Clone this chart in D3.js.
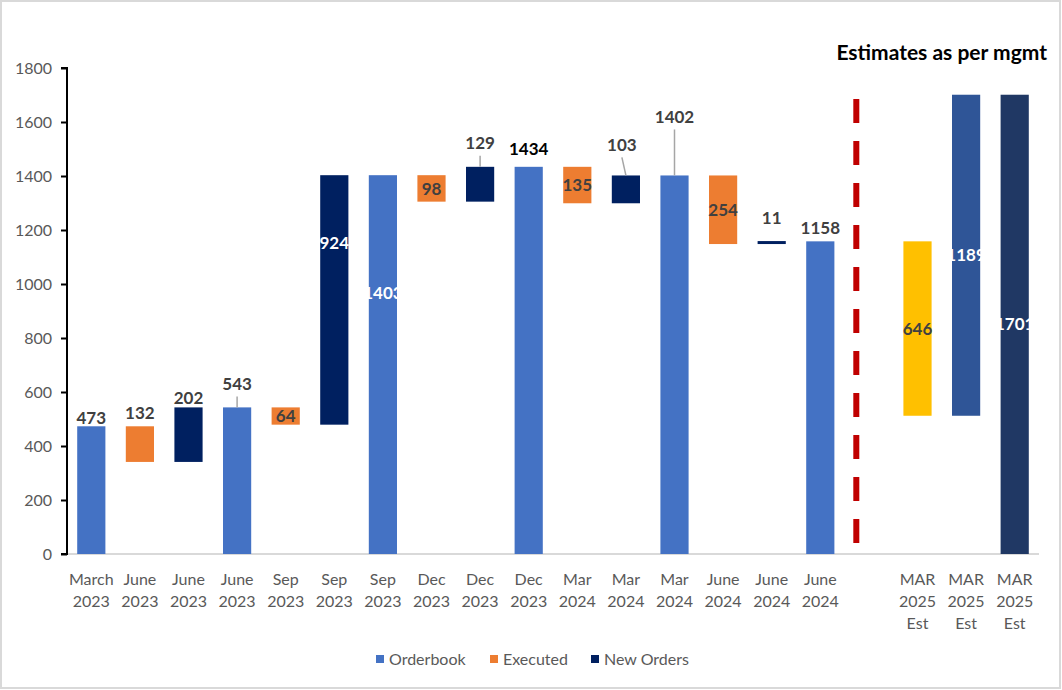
<!DOCTYPE html>
<html>
<head>
<meta charset="utf-8">
<script src="https://cdn.jsdelivr.net/npm/d3@7"></script>
<style>
  html, body { margin: 0; padding: 0; background: #fff; }
  svg { display: block; font-family: Lato, "Open Sans", sans-serif; }
</style>
</head>
<body>
<svg id="chart" width="1062" height="690"></svg>
<script>
// ---------------- DATA ----------------
const categories = [
  "March 2023", "June 2023", "June 2023", "June 2023",
  "Sep 2023", "Sep 2023", "Sep 2023",
  "Dec 2023", "Dec 2023", "Dec 2023",
  "Mar 2024", "Mar 2024", "Mar 2024",
  "June 2024", "June 2024", "June 2024",
  "",
  "MAR 2025 Est", "MAR 2025 Est", "MAR 2025 Est"
];
const series = [
  "Orderbook", "Executed", "New Orders", "Orderbook",
  "Executed", "New Orders", "Orderbook",
  "Executed", "New Orders", "Orderbook",
  "Executed", "New Orders", "Orderbook",
  "Executed", "New Orders", "Orderbook",
  null,
  "Est1", "Est2", "Est3"
];
const baseValues = [0, 341, 341, 0, 479, 479, 0, 1305, 1305, 0, 1299, 1299, 0, 1148, 1148, 0, null, 512, 512, 0];
const barValues  = [473, 132, 202, 543, 64, 924, 1403, 98, 129, 1434, 135, 103, 1402, 254, 11, 1158, null, 646, 1189, 1701];
const yTicks = [0, 200, 400, 600, 800, 1000, 1200, 1400, 1600, 1800];
const legendItems = ["Orderbook", "Executed", "New Orders"];
const dividerRange = [40, 1685];
const titleText = "Estimates as per mgmt";

// ---------------- STYLE ----------------
const colors = {
  "Orderbook": "#4472C4",
  "Executed": "#ED7D31",
  "New Orders": "#002060",
  "Est1": "#FFC000",
  "Est2": "#2F5597",
  "Est3": "#203864"
};
const labelMode = ["top","top","top","lead","in","in","in","in","lead","top","in","lead","lead","in","top","top",null,"in","in","in"];
const leadLen = {3: 11, 8: 11, 11: 18, 12: 46};
const leadDx = {11: -4};
const inOverride = {5: 1152, 6: 967};
const whiteLabels = new Set([5, 6, 18, 19]);
const blackLabels = new Set([9]);
const topGap = {0: 1, 1: 6, 2: 3, 9: 11, 14: 16, 15: 6};

const svg = d3.select("#chart");
const W = 1062, H = 690;

svg.append("rect").attr("x", 1).attr("y", 1).attr("width", W - 3).attr("height", H - 3)
  .attr("fill", "#fff").attr("stroke", "#D9D9D9").attr("stroke-width", 2);

const pLeft = 67, pRight = 1039, pTop = 68, pBottom = 554;
const idx = d3.range(categories.length);
const x = d3.scaleBand().domain(idx).range([pLeft, pRight]).paddingInner(0.42).paddingOuter(0.21);
const y = d3.scaleLinear().domain([0, 1800]).range([pBottom, pTop]);

svg.append("line").attr("x1", pLeft).attr("x2", pRight).attr("y1", y(0)).attr("y2", y(0))
  .attr("stroke", "#D9D9D9").attr("stroke-width", 2);

const yAxis = d3.axisLeft(y).tickValues(yTicks).tickFormat(d3.format("d")).tickSize(6).tickPadding(9);
const gy = svg.append("g").attr("transform", `translate(${pLeft},0)`).call(yAxis);
gy.select(".domain").attr("stroke", "#000").attr("stroke-width", 2)
  .attr("d", `M-6,${y(1800)}H0V${y(0)}H-6`);
gy.selectAll(".tick line").attr("stroke", "#000").attr("stroke-width", 2);
gy.selectAll(".tick text").attr("fill", "#595959").attr("font-size", 16).attr("font-family", "Lato, sans-serif");

const barIdx = idx.filter(i => barValues[i] != null);
svg.append("g").selectAll("rect").data(barIdx).join("rect")
  .attr("x", i => x(i))
  .attr("width", x.bandwidth())
  .attr("y", i => y(baseValues[i] + barValues[i]))
  .attr("height", i => Math.max(y(baseValues[i]) - y(baseValues[i] + barValues[i]), 0))
  .attr("fill", i => colors[series[i]]);

const lg = svg.append("g").attr("font-weight", "bold").attr("font-size", 17).attr("text-anchor", "middle");
barIdx.forEach(i => {
  const cx = x(i) + x.bandwidth() / 2;
  const topY = y(baseValues[i] + barValues[i]);
  const fill = whiteLabels.has(i) ? "#fff" : (blackLabels.has(i) ? "#000" : "#404040");
  const mode = labelMode[i];
  if (mode === "in") {
    const v = inOverride[i] != null ? inOverride[i] : baseValues[i] + barValues[i] / 2;
    lg.append("text").attr("x", cx).attr("y", y(v)).attr("dy", "0.36em").attr("fill", fill).text(barValues[i]);
  } else if (mode === "top") {
    lg.append("text").attr("x", cx).attr("y", topY - (topGap[i] || 4)).attr("dy", "-0.05em").attr("fill", fill).text(barValues[i]);
  } else if (mode === "lead") {
    const L = leadLen[i];
    const dx = leadDx[i] || 0;
    svg.append("line").attr("x1", cx + dx).attr("y1", topY - L).attr("x2", cx).attr("y2", topY)
      .attr("stroke", "#A6A6A6").attr("stroke-width", 1.5);
    lg.append("text").attr("x", cx + dx).attr("y", topY - L - 6).attr("dy", "-0.05em").attr("fill", fill).text(barValues[i]);
  }
});

const divX = x(16) + 1.5;
svg.append("line").attr("x1", divX).attr("x2", divX)
  .attr("y1", y(dividerRange[1])).attr("y2", y(dividerRange[0]))
  .attr("stroke", "#C00000").attr("stroke-width", 6).attr("stroke-dasharray", "24 18");

const xl = svg.append("g").attr("font-size", 16).attr("fill", "#595959").attr("text-anchor", "middle");
idx.forEach(i => {
  if (!categories[i]) return;
  const parts = categories[i].split(" ");
  const t = xl.append("text").attr("x", x(i) + x.bandwidth() / 2).attr("y", 585);
  parts.forEach((p, k) => {
    t.append("tspan").attr("x", x(i) + x.bandwidth() / 2).attr("dy", k === 0 ? 0 : 22).text(p);
  });
});

svg.append("text").attr("x", 1047).attr("y", 60).attr("text-anchor", "end")
  .attr("font-size", 21).attr("font-weight", "bold").attr("fill", "#000").text(titleText);

const legendX = [376, 490, 591];
const leg = svg.append("g");
legendItems.forEach((name, k) => {
  leg.append("rect").attr("x", legendX[k]).attr("y", 655).attr("width", 8).attr("height", 8).attr("fill", colors[name]);
  leg.append("text").attr("x", legendX[k] + 13).attr("y", 665).attr("font-size", 16).attr("fill", "#595959").text(name);
});
</script>
</body>
</html>
